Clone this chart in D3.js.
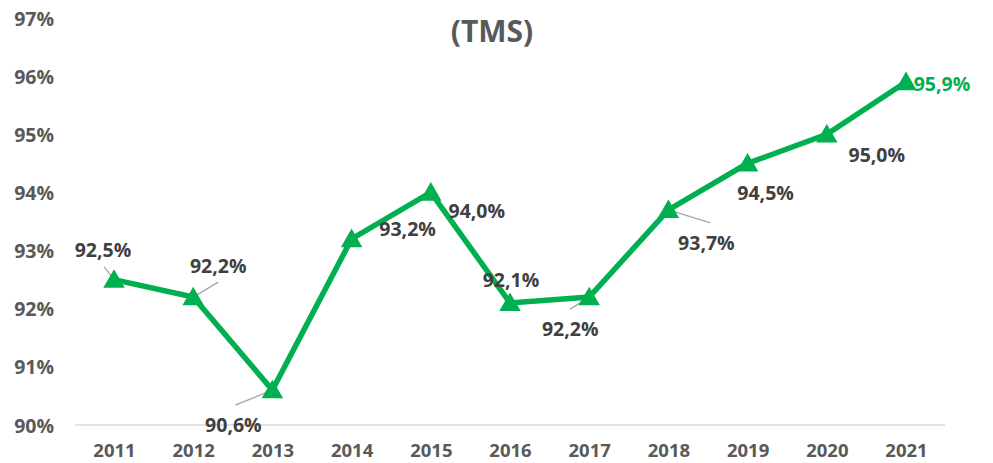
<!DOCTYPE html>
<html>
<head>
<meta charset="utf-8">
<script src="https://cdn.jsdelivr.net/npm/d3@7"></script>
<style>
  body { margin: 0; background: #fff; }
  svg { font-family: "Open Sans", sans-serif; font-weight: bold; }
</style>
</head>
<body>
<div id="chart"></div>
<script>
const years = ["2011","2012","2013","2014","2015","2016","2017","2018","2019","2020","2021"]
const tms = [92.5, 92.2, 90.6, 93.2, 94.0, 92.1, 92.2, 93.7, 94.5, 95.0, 95.9]
const labels = ["92,5%","92,2%","90,6%","93,2%","94,0%","92,1%","92,2%","93,7%","94,5%","95,0%","95,9%"]
const yTicks = [90, 91, 92, 93, 94, 95, 96, 97]

// where each data label sits, relative to its point (Excel moved them by hand)
const labelShift = [[-11,-30],[25,-32],[-39,34],[56,-10],[46,18],[1,-23],[-19,31],[38,33],[18,29],[50,20],[36,2]]
// leader lines, end point relative to the marker
const leaders = [[-10,-13],[25,-15],[-37,15],null,null,null,[-19,12],[42,13],null,null,null]

const width = 993, height = 463
const green = "#00B050"

const svg = d3.select("#chart").append("svg")
    .attr("width", width)
    .attr("height", height)

const x = d3.scalePoint().domain(years).range([114, 906])
const y = d3.scaleLinear().domain([90, 97]).range([425, 18])

// title
svg.append("text")
    .attr("x", 492).attr("y", 30)
    .attr("text-anchor", "middle")
    .attr("dominant-baseline", "central")
    .attr("font-size", 30)
    .attr("fill", "#595959")
    .text("(TMS)")

// y axis labels
svg.append("g").selectAll("text")
    .data(yTicks)
    .enter().append("text")
    .attr("x", 54)
    .attr("y", d => y(d))
    .attr("text-anchor", "end")
    .attr("dominant-baseline", "central")
    .attr("font-size", 19.5)
    .attr("fill", "#595959")
    .text(d => d + "%")

// baseline
svg.append("line")
    .attr("x1", 75).attr("x2", 945)
    .attr("y1", y(90)).attr("y2", y(90))
    .attr("stroke", "#d9d9d9")
    .attr("stroke-width", 1.5)

// x axis labels
const xAxis = d3.axisBottom(x).tickSize(0).tickPadding(0)
const gx = svg.append("g")
    .attr("transform", `translate(0, ${y(90) + 24})`)
    .call(xAxis)
gx.select(".domain").remove()
gx.selectAll("text")
    .attr("dy", 0)
    .attr("dominant-baseline", "central")
    .attr("font-size", 18.5)
    .attr("font-family", "Open Sans, sans-serif")
    .attr("font-weight", "bold")
    .attr("fill", "#595959")

// leader lines
svg.append("g").selectAll("line")
    .data(tms.map((v, i) => ({v, i})).filter(d => leaders[d.i]))
    .enter().append("line")
    .attr("x1", d => x(years[d.i]))
    .attr("y1", d => y(d.v))
    .attr("x2", d => x(years[d.i]) + leaders[d.i][0])
    .attr("y2", d => y(d.v) + leaders[d.i][1])
    .attr("stroke", "#a6a6a6")
    .attr("stroke-width", 1.3)

// series line
const line = d3.line()
    .x((d, i) => x(years[i]))
    .y(d => y(d))
svg.append("path")
    .datum(tms)
    .attr("d", line)
    .attr("fill", "none")
    .attr("stroke", green)
    .attr("stroke-width", 5.5)
    .attr("stroke-linejoin", "miter")

// triangle markers (shifted so the box, not the centroid, sits on the point)
const tri = d3.symbol().type(d3.symbolTriangle).size(200)
svg.append("g").selectAll("path")
    .data(tms)
    .enter().append("path")
    .attr("d", tri)
    .attr("transform", (d, i) => `translate(${x(years[i])}, ${y(d) + 2})`)
    .attr("fill", green)

// data labels
svg.append("g").selectAll("text")
    .data(tms)
    .enter().append("text")
    .attr("x", (d, i) => x(years[i]) + labelShift[i][0])
    .attr("y", (d, i) => y(d) + labelShift[i][1])
    .attr("text-anchor", "middle")
    .attr("dominant-baseline", "central")
    .attr("font-size", 19.5)
    .attr("fill", (d, i) => i == tms.length - 1 ? green : "#404040")
    .text((d, i) => labels[i])
</script>
</body>
</html>
